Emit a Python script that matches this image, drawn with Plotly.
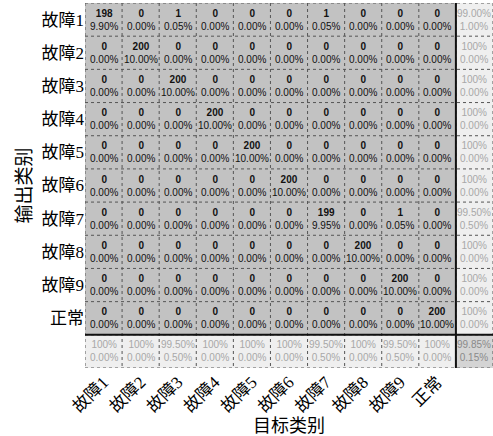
import plotly.graph_objects as go

# Class names (target classes on x, output classes on y)
classes = ["故障1", "故障2", "故障3", "故障4", "故障5",
           "故障6", "故障7", "故障8", "故障9", "正常"]

# Confusion counts: rows = output class, columns = target class
counts = [
    [198, 0, 1, 0, 0, 0, 1, 0, 0, 0],
    [0, 200, 0, 0, 0, 0, 0, 0, 0, 0],
    [0, 0, 200, 0, 0, 0, 0, 0, 0, 0],
    [0, 0, 0, 200, 0, 0, 0, 0, 0, 0],
    [0, 0, 0, 0, 200, 0, 0, 0, 0, 0],
    [0, 0, 0, 0, 0, 200, 0, 0, 0, 0],
    [0, 0, 0, 0, 0, 0, 199, 0, 1, 0],
    [0, 0, 0, 0, 0, 0, 0, 200, 0, 0],
    [0, 0, 0, 0, 0, 0, 0, 0, 200, 0],
    [0, 0, 0, 0, 0, 0, 0, 0, 0, 200],
]

n = len(classes)
total = sum(sum(r) for r in counts)
correct = sum(counts[i][i] for i in range(n))

MAIN_GRAY = "#c2c2c2"
SUM_GRAY = "#efefef"
CORNER_GRAY = "#d4d4d4"
SUM_TEXT = "#a8a8a8"
CELL_FONT = "Liberation Sans, Arial, sans-serif"
AXIS_FONT = "Liberation Serif, Noto Sans CJK SC, serif"


def pct(v):
    s = f"{v:.2f}%"
    return "100%" if s == "100.00%" else s


# cell kinds: 0 = confusion cell, 1 = summary cell, 2 = overall cell
z = []
for i in range(n + 1):
    row = []
    for j in range(n + 1):
        if i < n and j < n:
            row.append(0)
        elif i == n and j == n:
            row.append(2)
        else:
            row.append(1)
    z.append(row)

fig = go.Figure(go.Heatmap(
    z=z, x=list(range(n + 1)), y=list(range(n + 1)),
    colorscale=[[0, MAIN_GRAY], [0.5, SUM_GRAY], [1, CORNER_GRAY]],
    zmin=0, zmax=2, showscale=False, hoverinfo="skip",
))

annotations = []
for i in range(n):
    for j in range(n):
        c = counts[i][j]
        annotations.append(dict(
            x=j, y=i, xref="x", yref="y", showarrow=False,
            text=f"<b>{c}</b><br>{100 * c / total:.2f}%",
            font=dict(family=CELL_FONT, size=10, color="#111111"),
        ))

# row summaries (output class precision) on the right
for i in range(n):
    s = sum(counts[i])
    good = 100 * counts[i][i] / s if s else 0
    annotations.append(dict(
        x=n, y=i, xref="x", yref="y", showarrow=False,
        text=f"{pct(good)}<br>{pct(100 - good)}",
        font=dict(family=CELL_FONT, size=10, color=SUM_TEXT),
    ))

# column summaries (target class recall) along the bottom
for j in range(n):
    s = sum(counts[i][j] for i in range(n))
    good = 100 * counts[j][j] / s if s else 0
    annotations.append(dict(
        x=j, y=n, xref="x", yref="y", showarrow=False,
        text=f"{pct(good)}<br>{pct(100 - good)}",
        font=dict(family=CELL_FONT, size=10, color=SUM_TEXT),
    ))

acc = 100 * correct / total
annotations.append(dict(
    x=n, y=n, xref="x", yref="y", showarrow=False,
    text=f"{pct(acc)}<br>{pct(100 - acc)}",
    font=dict(family=CELL_FONT, size=10, color="#8a8a8a"),
))

# dotted cell dividers
shapes = []
for k in range(n + 2):
    p = k - 0.5
    shapes.append(dict(type="line", xref="x", yref="y", x0=p, x1=p,
                       y0=-0.5, y1=n + 0.5,
                       line=dict(color="#555555", width=1, dash="dot")))
    shapes.append(dict(type="line", xref="x", yref="y", y0=p, y1=p,
                       x0=-0.5, x1=n + 0.5,
                       line=dict(color="#555555", width=1, dash="dot")))
# solid separators around the summary row / column
shapes.append(dict(type="line", xref="x", yref="y", x0=n - 0.5, x1=n - 0.5,
                   y0=-0.5, y1=n + 0.5, line=dict(color="#111111", width=2)))
shapes.append(dict(type="line", xref="x", yref="y", y0=n - 0.5, y1=n - 0.5,
                   x0=-0.5, x1=n + 0.5, line=dict(color="#111111", width=2)))

fig.update_layout(
    width=493, height=436,
    margin=dict(l=85, r=0, t=3, b=68),
    paper_bgcolor="white", plot_bgcolor="white",
    annotations=annotations, shapes=shapes,
    xaxis=dict(
        range=[-0.5, n + 0.5], tickvals=list(range(n)), ticktext=classes,
        tickangle=-45, showgrid=False, zeroline=False, ticks="",
        tickfont=dict(family=AXIS_FONT, size=17, color="black"),
        title=dict(text="目标类别", standoff=2,
                   font=dict(family=AXIS_FONT, size=18, color="black")),
    ),
    yaxis=dict(
        range=[n + 0.5, -0.5], tickvals=list(range(n)), ticktext=classes,
        showgrid=False, zeroline=False, ticks="",
        tickfont=dict(family=AXIS_FONT, size=17, color="black"),
        title=dict(text="输出类别", standoff=4,
                   font=dict(family=AXIS_FONT, size=19, color="black")),
    ),
)

fig.write_html("out.html")
